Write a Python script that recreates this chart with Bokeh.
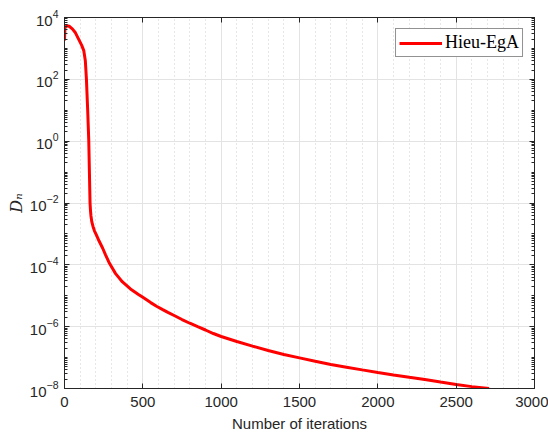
from bokeh.plotting import figure
from bokeh.models import FixedTicker, LinearAxis, LogAxis, Legend, LegendItem, CustomJSTickFormatter
from bokeh.embed import file_html
from bokeh.resources import INLINE

# Convergence history of D_n for the Hieu-EgA method
iterations = [0, 3, 15, 30, 50, 70, 90, 110, 123, 133, 140, 148, 155, 159, 163,
              166, 169, 174, 182, 191, 204, 220, 243, 262, 287, 326, 370, 421,
              472, 500, 550, 590, 627, 660, 700, 750, 800,
              850, 900, 950, 1000, 1100, 1200, 1300, 1400, 1500, 1600, 1700,
              1800, 1900, 2000, 2100, 2200, 2300, 2400, 2500, 2600, 2710]
dn_values = [1.8e3, 4.8e3, 5.4e3, 5.2e3, 4.3e3, 3.2e3, 2.0e3, 1.25e3, 8.5e2, 4.0e2,
             1.0e2, 1.0e1, 1.0, 1.0e-1, 1.0e-2, 5.6e-3, 3.8e-3, 2.5e-3, 1.74e-3,
             1.26e-3, 9.1e-4, 6.0e-4, 3.5e-4, 2.1e-4, 1.12e-4, 5.2e-5, 2.8e-5,
             1.66e-5, 1.1e-5, 8.9e-6, 6.0e-6,
             4.5e-6, 3.55e-6, 2.9e-6, 2.3e-6, 1.7e-6, 1.29e-6, 1.0e-6, 7.8e-7,
             6.0e-7, 4.8e-7, 3.3e-7, 2.35e-7, 1.7e-7, 1.26e-7, 9.8e-8, 7.6e-8,
             6.0e-8, 4.9e-8, 4.0e-8, 3.3e-8, 2.75e-8, 2.3e-8, 1.95e-8, 1.62e-8,
             1.35e-8, 1.15e-8, 1.0e-8]
series_name = "Hieu-EgA"

x_ticks = [0, 500, 1000, 1500, 2000, 2500, 3000]
x_minor_ticks = [v for v in range(100, 3000, 100) if v % 500 != 0]
y_ticks = [1e-8, 1e-6, 1e-4, 1e-2, 1e0, 1e2, 1e4]
y_minor_ticks = [k * 10.0 ** e for e in range(-8, 4) for k in range(1, 10)
                 if not (k == 1 and e % 2 == 0)]

AX = "#262626"
SANS = "Liberation Sans"

p = figure(width=548, height=437, y_axis_type="log",
           x_range=(0, 3000), y_range=(1e-8, 1e4),
           output_backend="svg", toolbar_location=None,
           min_border_left=64, min_border_right=14,
           min_border_top=17, min_border_bottom=49)
p.background_fill_color = "white"
p.border_fill_color = "white"
p.outline_line_color = AX
p.outline_line_width = 1

xt = FixedTicker(ticks=x_ticks, minor_ticks=x_minor_ticks)
yt = FixedTicker(ticks=y_ticks, minor_ticks=y_minor_ticks)

def style_axis(ax, show_labels):
    ax.axis_line_color = AX
    ax.major_tick_line_color = AX
    ax.minor_tick_line_color = AX
    ax.major_tick_in = 5
    ax.major_tick_out = 0
    ax.minor_tick_in = 3
    ax.minor_tick_out = 0
    ax.major_label_text_font = SANS
    ax.major_label_text_font_size = "15px"
    ax.major_label_text_color = AX
    if not show_labels:
        ax.major_label_text_font_size = "0px"
        ax.major_label_standoff = 0
        ax.formatter = CustomJSTickFormatter(code="return ''")

xa = p.xaxis[0]
xa.ticker = xt
style_axis(xa, True)
xa.minor_tick_line_color = None
xa.major_label_standoff = 8
xa.axis_label = "Number of iterations"
xa.axis_label_text_font = SANS
xa.axis_label_text_font_size = "15px"
xa.axis_label_text_font_style = "normal"
xa.axis_label_text_color = AX
xa.axis_label_standoff = 5

ya = p.yaxis[0]
ya.ticker = yt
style_axis(ya, True)
ya.major_label_standoff = 6
ya.axis_label = "Dₙ"
ya.axis_label_text_font = "DejaVu Serif"
ya.axis_label_text_font_size = "16px"
ya.axis_label_text_font_style = "italic"
ya.axis_label_text_color = AX
ya.axis_label_standoff = 1

top = LinearAxis(ticker=xt)
style_axis(top, False)
top.minor_tick_line_color = None
p.add_layout(top, "above")

right = LogAxis(ticker=yt)
style_axis(right, False)
p.add_layout(right, "right")

p.xgrid.ticker = xt
p.xgrid.grid_line_color = "#e3e3e3"
p.xgrid.grid_line_width = 1
p.xgrid.minor_grid_line_color = "#cfcfcf"
p.xgrid.minor_grid_line_dash = "1 3"
p.xgrid.minor_grid_line_width = 1
p.ygrid.ticker = yt
p.ygrid.grid_line_color = "#e3e3e3"
p.ygrid.grid_line_width = 1

r = p.line(iterations, dn_values, line_color="#ff0000", line_width=3)

legend = Legend(items=[LegendItem(label=series_name, renderers=[r])],
                location="top_right", margin=11,
                label_text_font="Liberation Serif", label_text_font_size="18px",
                label_text_color="black", glyph_width=43, glyph_height=16,
                label_standoff=3, padding=3, spacing=0,
                border_line_color=AX, border_line_width=1,
                background_fill_color="white", background_fill_alpha=1.0)
p.add_layout(legend, "center")

open("out.html", "w").write(file_html(p, INLINE))
